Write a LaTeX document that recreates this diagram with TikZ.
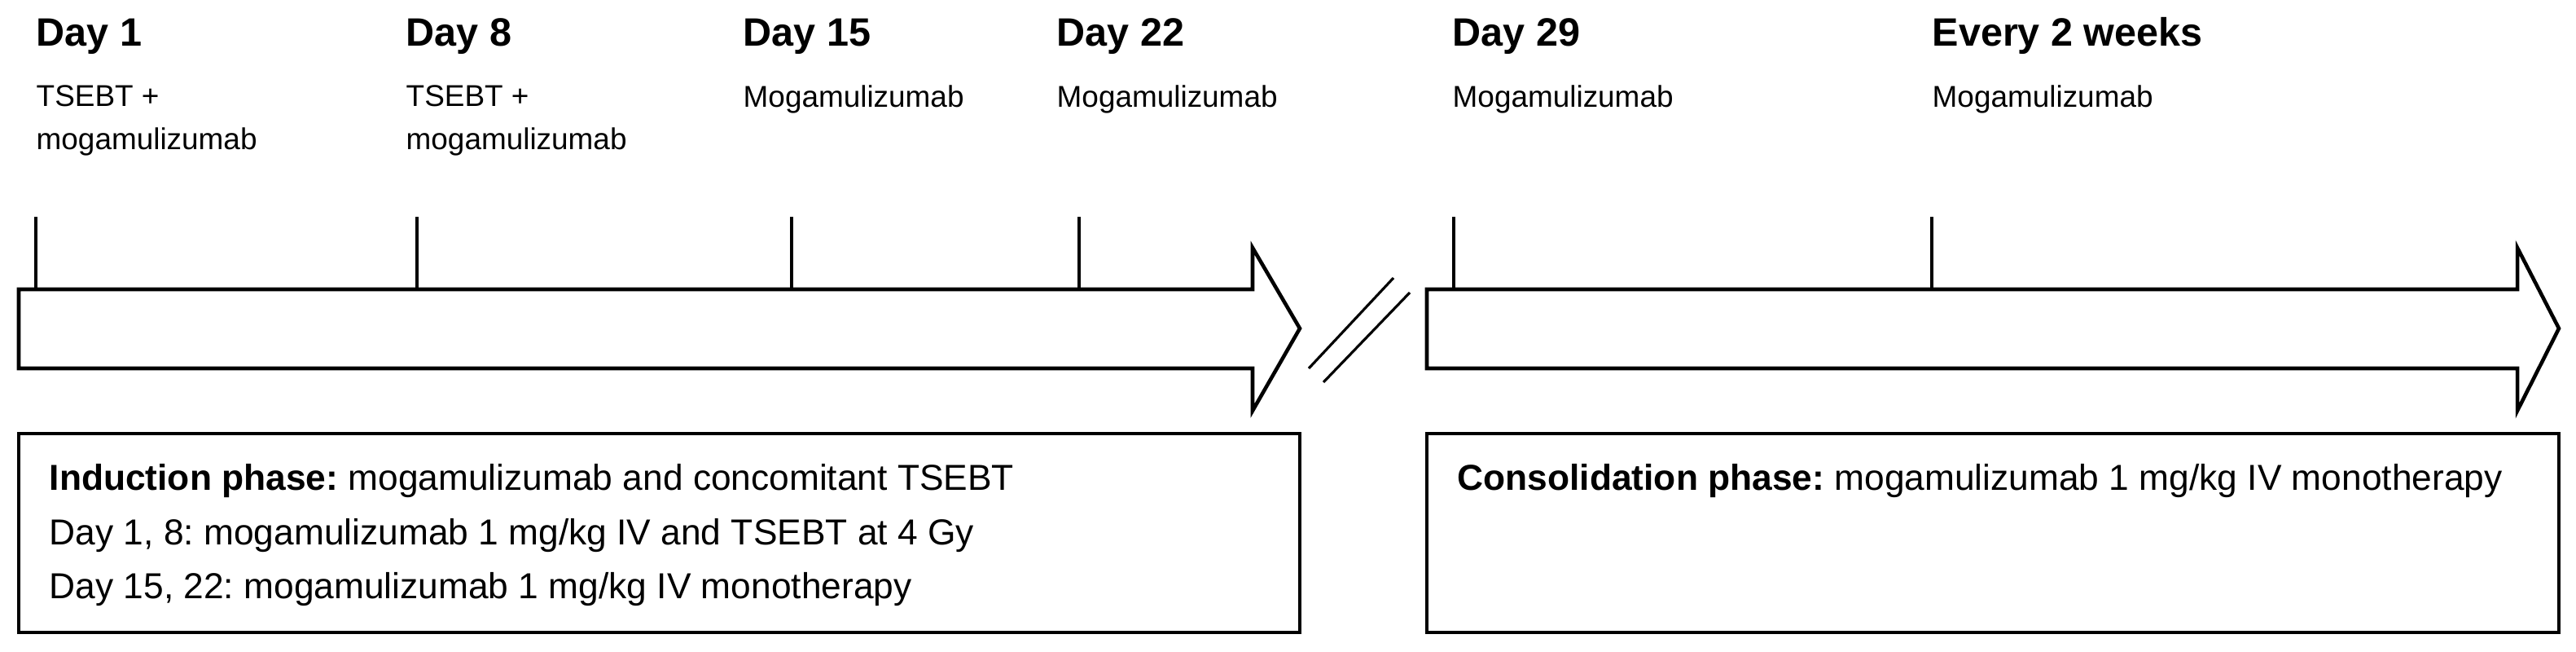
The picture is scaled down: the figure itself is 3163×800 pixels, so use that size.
\documentclass[tikz,border=0pt]{standalone}
\usepackage{fontspec}
\setmainfont{Liberation Sans}
\frenchspacing
\begin{document}
\begin{tikzpicture}[x=0.01cm,y=-0.01cm,
  day/.style={anchor=base west,inner sep=0,font=\fontsize{13.8}{16}\selectfont\bfseries},
  sub/.style={anchor=north west,inner sep=0,font=\fontsize{10.5}{15}\selectfont,align=left},
  txt/.style={anchor=base west,inner sep=0,font=\fontsize{12.6}{14}\selectfont},
  outl/.style={line width=1.3pt,line join=miter},
  tick/.style={line width=0.9pt}]
\useasboundingbox (0,0) rectangle (3163,800);
% arrows
\draw[outl] (23,355) -- (1538,355) -- (1538,304) -- (1596,403) -- (1538,504) -- (1538,452) -- (23,452) -- cycle;
\draw[outl] (1752,355) -- (3091,355) -- (3091,304) -- (3142,403) -- (3091,504) -- (3091,452) -- (1752,452) -- cycle;
% break marks
\coordinate (s1a) at (1711,341); \coordinate (s1b) at (1607,452);
\coordinate (s2a) at (1731,359); \coordinate (s2b) at (1625,469);
\draw[tick] (s1a) -- (s1b); \draw[tick] (s2a) -- (s2b);
% ticks
\foreach \n/\x in {a/44,b/512,c/972,d/1325,e/1785,f/2372}{
  \coordinate (t\n) at (\x,266); \coordinate (u\n) at (\x,355);
  \draw[tick] (t\n) -- (u\n);}
% labels
\node[day] (d1) at (44,56) {Day 1};
\node[day] (d8) at (498,56) {Day 8};
\node[day] (d15) at (912,56) {Day 15};
\node[day] (d22) at (1297,56) {Day 22};
\node[day] (d29) at (1783,56) {Day 29};
\node[day] (dw) at (2372,56) {Every 2 weeks};
\node[sub] (s1) at (44,104) {TSEBT +\\mogamulizumab};
\node[sub] (s8) at (498,104) {TSEBT +\\mogamulizumab};
\node[sub] (s15) at (912,104) {Mogamulizumab};
\node[sub] (s22) at (1297,104) {Mogamulizumab};
\node[sub] (s29) at (1783,104) {Mogamulizumab};
\node[sub] (sw) at (2372,104) {Mogamulizumab};
% boxes
\draw[outl] (23,532) rectangle (1596,776);
\draw[outl] (1752,532) rectangle (3142,776);
\node[txt] (i1) at (60,601) {\textbf{Induction phase:}~mogamulizumab and concomitant TSEBT};
\node[txt] (i2) at (60,668) {Day 1, 8: mogamulizumab 1 mg/kg IV and TSEBT at 4 Gy};
\node[txt] (i3) at (60,734) {Day 15, 22: mogamulizumab 1 mg/kg IV monotherapy};
\node[txt] (c1) at (1789,601) {\textbf{Consolidation phase:}~mogamulizumab 1 mg/kg IV monotherapy};
\end{tikzpicture}
\end{document}
